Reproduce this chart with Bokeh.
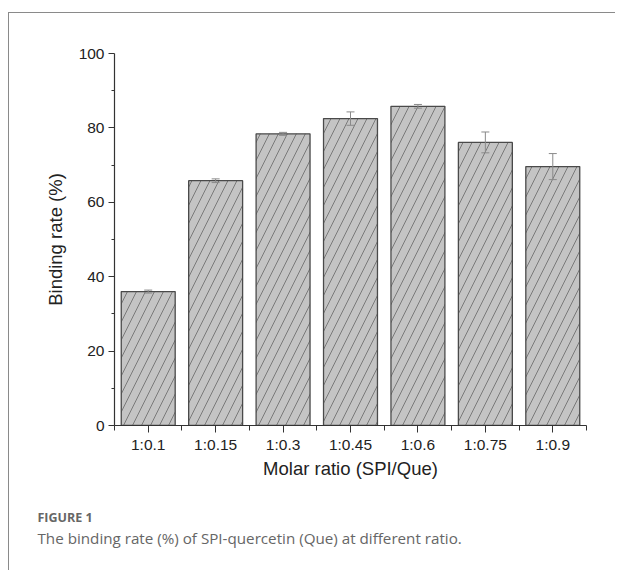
from bokeh.plotting import figure
from bokeh.models import (ColumnDataSource, FixedTicker, Whisker, TeeHead, Title, Range1d)
from bokeh.embed import file_html
from bokeh.resources import INLINE

categories = ["1:0.1", "1:0.15", "1:0.3", "1:0.45", "1:0.6", "1:0.75", "1:0.9"]
binding_rate = [36.0, 65.8, 78.4, 82.5, 85.8, 76.1, 69.6]
error = [0.4, 0.5, 0.4, 1.8, 0.5, 2.8, 3.5]
y_ticks = [0, 20, 40, 60, 80, 100]
y_minor_ticks = [10, 30, 50, 70, 90]
x_title = "Molar ratio (SPI/Que)"
y_title = "Binding rate (%)"
fig_label = "FIGURE 1"
caption = "The binding rate (%) of SPI-quercetin (Que) at different ratio."

positions = list(range(len(categories)))
src = ColumnDataSource(dict(
    x=positions,
    top=binding_rate,
    upper=[v + e for v, e in zip(binding_rate, error)],
    lower=[v - e for v, e in zip(binding_rate, error)],
))

# outer card border (top + left) drawn with CSS; shift inner layout accordingly
off_x, off_y = 9, 13
p = figure(width=617 - off_x - 1, height=572 - off_y - 1, title=None,
           x_range=Range1d(-0.5, len(categories) - 0.5),
           y_range=Range1d(0, 100),
           output_backend="svg", toolbar_location=None,
           min_border_left=114 - off_x, min_border_right=40 - off_x - 1,
           min_border_top=53 - off_y, min_border_bottom=147 - 1)
p.styles = {"margin-left": "8px", "margin-top": "12px",
            "border-top": "1.5px solid #8a8a8a", "border-left": "1.5px solid #8a8a8a"}

p.vbar(x="x", top="top", width=0.8, source=src,
       fill_color="#c4c4c4", line_color="#4a4a4a", line_width=1.3,
       hatch_pattern="/", hatch_color="#707070", hatch_scale=18, hatch_weight=0.9)

wh = Whisker(base="x", upper="upper", lower="lower", source=src,
             line_color="#8a8a8a", line_width=1,
             upper_head=TeeHead(size=8, line_color="#8a8a8a", line_width=1),
             lower_head=TeeHead(size=8, line_color="#8a8a8a", line_width=1),
             level="annotation")
p.add_layout(wh)

p.xgrid.grid_line_color = None
p.ygrid.grid_line_color = None
p.outline_line_color = None
p.background_fill_color = "white"
p.border_fill_color = "white"

font = "Liberation Sans"
p.xaxis.ticker = FixedTicker(ticks=positions,
                             minor_ticks=[i - 0.5 for i in range(len(categories) + 1)])
p.xaxis.major_label_overrides = {i: c for i, c in zip(positions, categories)}
p.yaxis.ticker = FixedTicker(ticks=y_ticks, minor_ticks=y_minor_ticks)

for ax in (p.xaxis[0], p.yaxis[0]):
    ax.axis_line_color = "#333333"
    ax.axis_line_width = 1.2
    ax.major_tick_line_color = "#333333"
    ax.minor_tick_line_color = "#333333"
    ax.major_tick_in = 0
    ax.minor_tick_in = 0
    ax.major_label_text_font = font
    ax.major_label_text_font_size = "15.5px"
    ax.major_label_text_color = "#222222"
    ax.axis_label_text_font = font
    ax.axis_label_text_font_size = "18.5px"
    ax.axis_label_text_font_style = "normal"
    ax.axis_label_text_color = "#222222"

p.xaxis.axis_label = x_title
p.yaxis.axis_label = y_title
p.xaxis.major_tick_out = 7
p.xaxis.minor_tick_out = 5
p.yaxis.major_tick_out = 6
p.yaxis.minor_tick_out = 3
p.xaxis.major_label_standoff = 3
p.xaxis.axis_label_standoff = 2
p.yaxis.major_label_standoff = 4
p.yaxis.axis_label_standoff = 10

p.add_layout(Title(text=fig_label, align="left", offset=-77, standoff=50,
                   text_font="Open Sans", text_font_size="12.5px", text_color="#666666",
                   text_font_style="bold"), "below")
p.add_layout(Title(text=caption, align="left", offset=-77, standoff=-46,
                   vertical_align="top",
                   text_font="Open Sans", text_font_size="15.2px", text_color="#666666",
                   text_font_style="normal"), "below")

open("out.html", "w").write(file_html(p, INLINE))
